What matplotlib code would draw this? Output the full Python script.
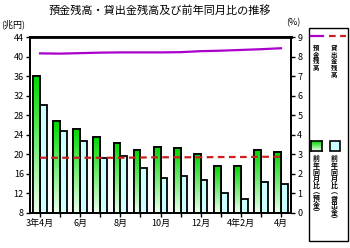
import matplotlib
matplotlib.use("Agg")
import matplotlib.pyplot as plt
from matplotlib.patches import Rectangle
from matplotlib.lines import Line2D
import numpy as np

plt.rcParams['font.family'] = ['Noto Sans CJK JP', 'DejaVu Sans']

months = ['3年4月', '', '6月', '', '8月', '', '10月', '', '12月', '', '4年2月', '', '4月']
deposit_yoy = [7.0, 4.7, 4.3, 3.9, 3.6, 3.2, 3.4, 3.3, 3.0, 2.4, 2.4, 3.2, 3.1]
loan_yoy = [5.5, 4.2, 3.7, 2.8, 2.9, 2.3, 1.8, 1.9, 1.7, 1.0, 0.7, 1.6, 1.5]
deposit_bal = [40.65, 40.6, 40.7, 40.8, 40.85, 40.85, 40.85, 40.9, 41.1, 41.2, 41.35, 41.5, 41.7]
loan_bal = [19.3, 19.3, 19.3, 19.3, 19.3, 19.35, 19.4, 19.4, 19.4, 19.45, 19.45, 19.5, 19.5]

green_grad = np.ones((50, 1, 3))
t = np.linspace(0, 1, 50)[:, None]
green_grad[:, 0, :] = (1 - t) * np.array([0.0, 0.85, 0.0]) + t * np.array([0.93, 1.0, 0.93])

fig = plt.figure(figsize=(3.5, 2.48), dpi=100)
ax = fig.add_axes([30 / 350, 1 - 213 / 248, 261 / 350, 176 / 248])
x = np.arange(len(months))
w = 0.34

green_bars = ax.bar(x - w / 2, deposit_yoy, w, color='#00dd00', edgecolor='black', linewidth=1.3, zorder=2)
ax.bar(x + w / 2, loan_yoy, w, color='#ccffff', edgecolor='black', linewidth=1.3, zorder=2)
for b in green_bars:
    x0, y0 = b.get_x(), b.get_y()
    im = ax.imshow(green_grad, extent=[x0, x0 + b.get_width(), y0, y0 + b.get_height()],
                   aspect='auto', origin='upper', zorder=2.1)
    im.set_clip_path(b)
    ax.add_patch(Rectangle((x0, y0), b.get_width(), b.get_height(), fill=False,
                           edgecolor='black', linewidth=1.3, zorder=2.2))

ax.set_xlim(-0.5, len(months) - 0.5)
ax.set_ylim(0, 9)
ax.set_yticks(range(0, 10))
ax.set_xticks(x)
ax.set_xticklabels(months)

axl = ax.twinx()
ax.yaxis.tick_right()
axl.yaxis.tick_left()
axl.plot(x, deposit_bal, color='#aa00cc', linewidth=1.6, zorder=3)
axl.plot(x, loan_bal, color='#cc2020', linewidth=1.6, linestyle=(0, (3, 2)), zorder=3)
axl.set_ylim(8, 44)
axl.set_yticks(range(8, 45, 4))

for a in (ax, axl):
    a.tick_params(labelsize=6.5, length=3, width=1, pad=1.5)
    for s in a.spines.values():
        s.set_linewidth(1.3)
axl.spines['top'].set_linewidth(2)

fig.text(160 / 350, 1 - 11 / 248, '預金残高・貸出金残高及び前年同月比の推移', ha='center', va='center', fontsize=8)
fig.text(1 / 350, 1 - 24 / 248, '(兆円)', ha='left', va='center', fontsize=6.5)
fig.text(293 / 350, 1 - 23 / 248, '(%)', ha='center', va='center', fontsize=6.5)

# legend box
fig.patches.append(Rectangle((309 / 350, 1 - 241 / 248), 39 / 350, 213 / 248, transform=fig.transFigure,
                             fill=False, edgecolor='black', linewidth=1))
fig.lines.append(Line2D([311 / 350, 323 / 350], [1 - 36 / 248] * 2, transform=fig.transFigure,
                        color='#aa00cc', linewidth=1.6))
fig.lines.append(Line2D([329 / 350, 346 / 350], [1 - 36 / 248] * 2, transform=fig.transFigure,
                        color='#cc2020', linewidth=1.6, linestyle=(0, (3, 2))))
lg = fig.add_axes([311 / 350, 1 - 151 / 248, 11 / 350, 10 / 248])
lg.imshow(green_grad, aspect='auto')
lg.set_xticks([])
lg.set_yticks([])
for s in lg.spines.values():
    s.set_linewidth(1.2)
fig.patches.append(Rectangle((330 / 350, 1 - 151 / 248), 10 / 350, 10 / 248, transform=fig.transFigure,
                             facecolor='#ccffff', edgecolor='black', linewidth=1.2))

def vtext(xp, yp, s, fs):
    fig.text(xp / 350, 1 - yp / 248, '\n'.join(s), ha='center', va='top', fontsize=fs,
             linespacing=0.95, fontweight='bold')

vtext(316, 44, '預金残高', 4.6)
vtext(334, 44, '貸出金残高', 4.6)
vtext(316, 155, '前年同月比︵預金︶', 5)
vtext(334, 155, '前年同月比︵貸出金︶', 5)

fig.savefig('out.png', dpi=100)
